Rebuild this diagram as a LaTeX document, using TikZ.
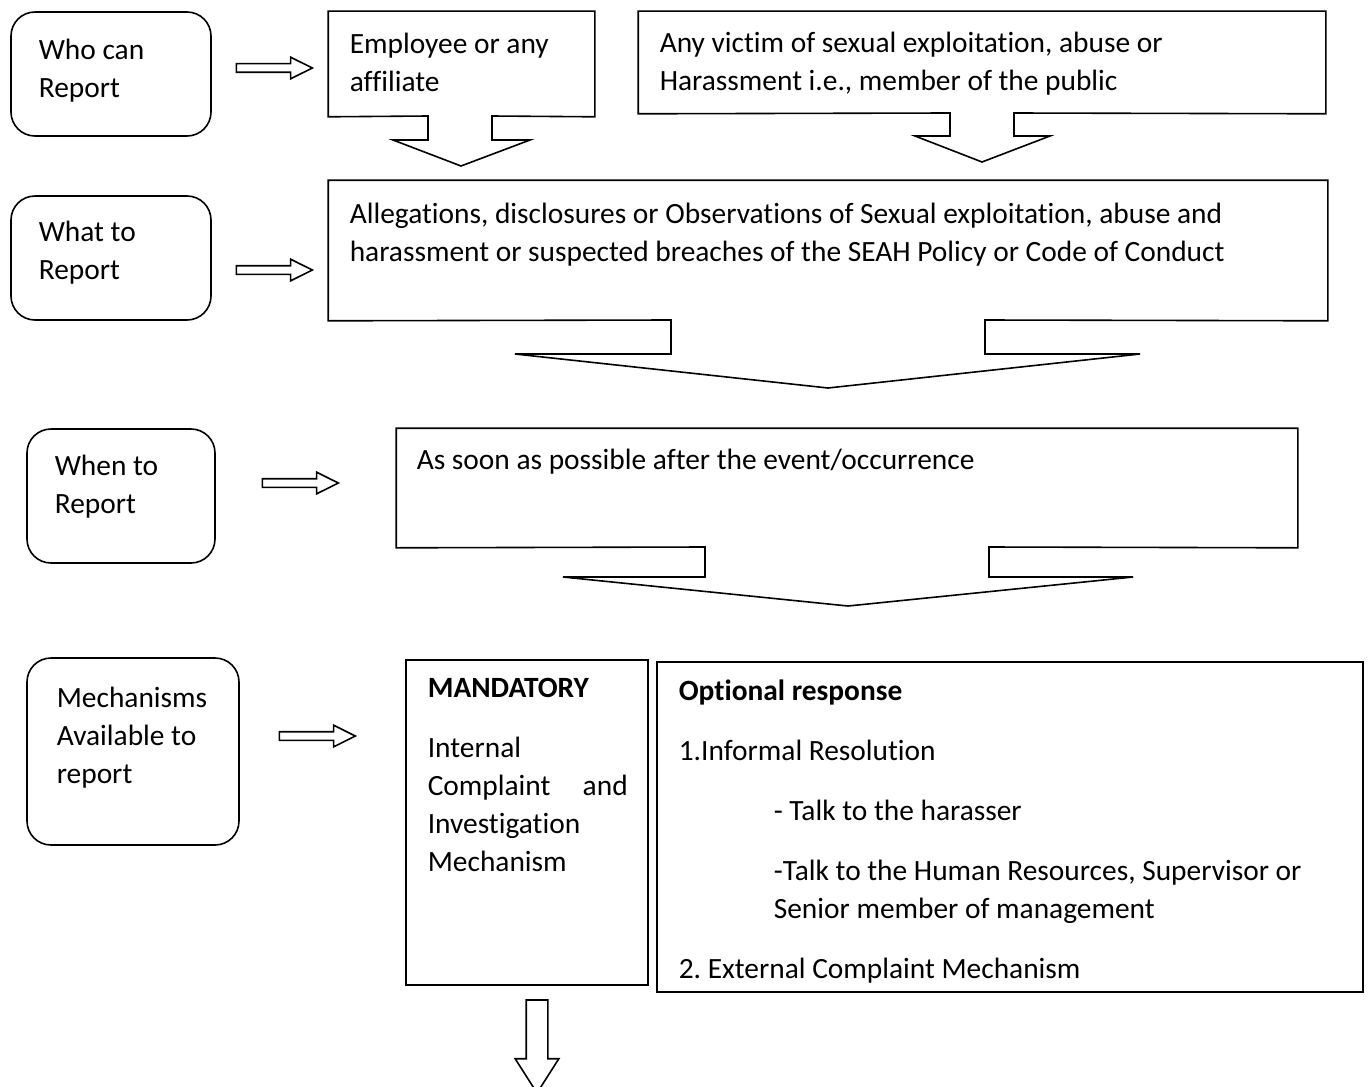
\documentclass[tikz,border=0pt]{standalone}
\usepackage{fontspec}
\setmainfont{Carlito}[Ligatures={NoCommon}]
\frenchspacing
\usetikzlibrary{fit}
\usetikzlibrary{shapes.arrows}

\begin{document}
\begin{tikzpicture}[x=0.5pt, y=-0.5pt, line width=0.8pt,
    font=\fontsize{14.7}{19}\selectfont,
    rbox/.style={draw, rounded corners=12pt, inner sep=0pt},
    frame/.style={inner sep=0pt},
    txt/.style={align=left, inner sep=0pt, anchor=north west},
    hollow/.style={draw, single arrow, single arrow head extend=3.25pt,
      single arrow tip angle=53, inner sep=1.75pt, minimum width=10pt,
      minimum height=38pt}]
    \useasboundingbox (0,0) rectangle (1368,1086);
    % who can report
    \node[rbox, fit={(11,12) (211,136)}] (who) {};
    \node[txt] (whoT) at (38,38.4) {Who can\\Report};
    \node[hollow] (arr1) at (270,68) {};
    \node[frame, fit={(329,12) (594,116)}] (emp) {};
    \node[txt] (empT) at (349,32.4) {Employee or any\\affiliate};
    \draw (emp.south west) -- (428,116) -- (428,140) -- (393,140) -- (461,166)
    -- (530,140) -- (492,140) -- (492,116) -- (emp.south east)
    -- (emp.north east) -- (emp.north west) -- cycle;
    \node[frame, fit={(639,12) (1325,113)}] (vic) {};
    \node[txt] (vicT) at (659,31.4) {Any victim of sexual exploitation, abuse or\\Harassment i.e., member of the public};
    \draw (vic.south west) -- (950,113) -- (950,136) -- (915,136) -- (982,162)
    -- (1050,136) -- (1014,136) -- (1014,113) -- (vic.south east)
    -- (vic.north east) -- (vic.north west) -- cycle;
    % what to report
    \node[rbox, fit={(11,196) (211,320)}] (what) {};
    \node[txt] (whatT) at (38,220.4) {What to\\Report};
    \node[hollow] (arr2) at (270,270) {};
    \node[frame, fit={(329,181) (1327,320)}] (alle) {};
    \node[txt] (alleT) at (349,202.4) {Allegations, disclosures or Observations of Sexual exploitation, abuse and\\harassment or suspected breaches of the SEAH Policy or Code of Conduct};
    \draw (alle.south west) -- (671,320) -- (671,354) -- (515,354) -- (828,388)
    -- (1140,354) -- (985,354) -- (985,320) -- (alle.south east)
    -- (alle.north east) -- (alle.north west) -- cycle;
    % when to report
    \node[rbox, fit={(27,429) (215,563)}] (when) {};
    \node[txt] (whenT) at (54,454.4) {When to\\Report};
    \node[hollow] (arr3) at (296,483) {};
    \node[frame, fit={(397,429) (1297,547)}] (soon) {};
    \node[txt] (soonT) at (416,448.4) {As soon as possible after the event/occurrence};
    \draw (soon.south west) -- (705,547) -- (705,577) -- (563,577) -- (848,606)
    -- (1133,577) -- (989,577) -- (989,547) -- (soon.south east)
    -- (soon.north east) -- (soon.north west) -- cycle;
    % mechanisms
    \node[rbox, fit={(27,658) (239,845)}] (mech) {};
    \node[txt] (mechT) at (56,686.4) {Mechanisms\\Available to\\report};
    \node[hollow] (arr4) at (313,736) {};
    \node[frame, draw, line width=0.6pt, fit={(406,660) (648,985)}] (mand) {};
    \node[txt] (mandT) at (427,677.4) {\textbf{MANDATORY}\\[11pt]Internal\\
      \makebox[100pt][l]{Complaint\hfill and}\\Investigation\\Mechanism};
    \node[frame, draw, line width=0.6pt, fit={(657,662) (1363,992)}] (opt) {};
    \node[txt] (optT) at (678,679.4) {\textbf{Optional response}\\[11pt]1.Informal Resolution\\[11pt]
      \hspace*{47.5pt}- Talk to the harasser\\[11pt]
      \hspace*{47.5pt}-Talk to the Human Resources, Supervisor or\\
      \hspace*{47.5pt}Senior member of management\\[11pt]
      2. External Complaint Mechanism};
    \node[hollow, shape border rotate=270, inner sep=5pt, single arrow head extend=5.5pt,
      single arrow tip angle=65, minimum width=21pt, minimum height=46.5pt] (down) at (537,1038) {};
  \end{tikzpicture}
\end{document}
